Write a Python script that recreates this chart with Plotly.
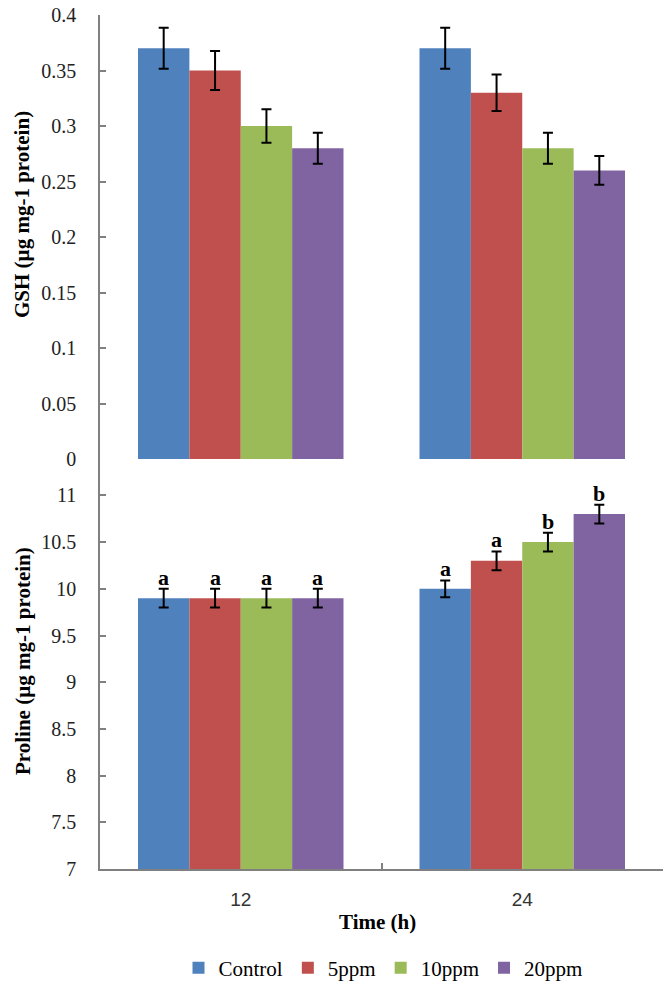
import plotly.graph_objects as go

times = ["12", "24"]
series = ["Control", "5ppm", "10ppm", "20ppm"]
colors = ["#4F81BD", "#C0504D", "#9BBB59", "#8064A2"]

gsh = {
    "Control": [0.37, 0.37],
    "5ppm": [0.35, 0.33],
    "10ppm": [0.30, 0.28],
    "20ppm": [0.28, 0.26],
}
gsh_err = {
    "Control": [0.0185, 0.0185],
    "5ppm": [0.0175, 0.0165],
    "10ppm": [0.015, 0.014],
    "20ppm": [0.014, 0.013],
}
proline = {
    "Control": [9.9, 10.0],
    "5ppm": [9.9, 10.3],
    "10ppm": [9.9, 10.5],
    "20ppm": [9.9, 10.8],
}
proline_err = {
    "Control": [0.1, 0.09],
    "5ppm": [0.1, 0.1],
    "10ppm": [0.1, 0.1],
    "20ppm": [0.1, 0.1],
}
letters = {
    "Control": ["a", "a"],
    "5ppm": ["a", "a"],
    "10ppm": ["a", "b"],
    "20ppm": ["a", "b"],
}

BARGAP = 0.27
W, H = 672, 983
ML, MR, MT, MB = 100, 9, 15, 114
PW, PH = W - ML - MR, H - MT - MB
split = (869 - 459) / PH

fig = go.Figure()
for s, c in zip(series, colors):
    fig.add_trace(go.Bar(
        x=times, y=gsh[s], name=s, marker_color=c, marker_line_width=0,
        error_y=dict(type="data", array=gsh_err[s], color="black", thickness=2, width=5),
        xaxis="x", yaxis="y", showlegend=True, legendgroup=s,
    ))
for s, c in zip(series, colors):
    fig.add_trace(go.Bar(
        x=times, y=proline[s], name=s, marker_color=c, marker_line_width=0,
        error_y=dict(type="data", array=proline_err[s], color="black", thickness=2, width=5),
        xaxis="x2", yaxis="y2", showlegend=False, legendgroup=s,
    ))

serif = "Liberation Serif, Times New Roman, serif"

# significance letters placed above error bars
n = len(series)
group_w = 1 - BARGAP
bar_w = group_w / n
for j, s in enumerate(series):
    off = -group_w / 2 + (j + 0.5) * bar_w
    for i, t in enumerate(times):
        fig.add_annotation(
            x=i + off, y=proline[s][i] + proline_err[s][i], xref="x2", yref="y2",
            text="<b>%s</b>" % letters[s][i], showarrow=False, yanchor="bottom",
            yshift=-3,
            font=dict(family=serif, size=22, color="black"),
        )

# axis titles
fig.add_annotation(x=(22 - ML) / PW, y=(869 - 215) / PH, xref="paper", yref="paper",
                   text="<b>GSH (µg mg-1 protein)</b>", textangle=-90, showarrow=False,
                   xanchor="center", yanchor="middle",
                   font=dict(family=serif, size=21, color="black"))
fig.add_annotation(x=(23 - ML) / PW, y=(869 - 661) / PH, xref="paper", yref="paper",
                   text="<b>Proline (µg mg-1 protein)</b>", textangle=-90, showarrow=False,
                   xanchor="center", yanchor="middle",
                   font=dict(family=serif, size=21, color="black"))
fig.add_annotation(x=(377 - ML) / PW, y=(869 - 922) / PH, xref="paper", yref="paper",
                   text="<b>Time (h)</b>", showarrow=False,
                   xanchor="center", yanchor="middle",
                   font=dict(family=serif, size=21, color="black"))

axis_line = "#808080"
common_y = dict(showline=True, linecolor=axis_line, linewidth=1.5,
                ticks="inside", ticklen=6, tickcolor=axis_line, tickwidth=1.5,
                showgrid=False, zeroline=False, ticklabelstandoff=18,
                automargin=False,
                tickfont=dict(family=serif, size=20, color="#222"))
fig.update_layout(
    width=W, height=H,
    margin=dict(l=ML, r=MR, t=MT, b=MB, autoexpand=False),
    paper_bgcolor="white", plot_bgcolor="white",
    barmode="group", bargap=BARGAP, bargroupgap=0,
    xaxis=dict(domain=[0, 1], anchor="y", type="category", showline=False,
               showticklabels=False, ticks="", showgrid=False, zeroline=False,
               automargin=False),
    yaxis=dict(domain=[split, 1], anchor="x", range=[0, 0.4], dtick=0.05, **common_y),
    xaxis2=dict(domain=[0, 1], anchor="y2", type="category", showline=True,
                linecolor=axis_line, linewidth=1.5, ticks="inside", ticklen=6,
                tickcolor=axis_line, tickwidth=1.5, tickson="boundaries",
                showgrid=False, zeroline=False, automargin=False,
                ticklabelstandoff=12,
                tickfont=dict(family="Liberation Sans", size=19, color="#333")),
    yaxis2=dict(domain=[0, split], anchor="x2", range=[7, 11.39], dtick=0.5,
                tick0=7, **common_y),
    legend=dict(orientation="h", x=(383 - ML) / PW, xanchor="center",
                y=(869 - 968) / PH, yanchor="middle",
                font=dict(family=serif, size=21, color="black"),
                itemwidth=30, tracegroupgap=0),
)

fig.write_html(
    "out.html",
    config={"displayModeBar": False},
    post_script="document.body.style.margin='0';document.body.style.overflow='hidden';",
)
